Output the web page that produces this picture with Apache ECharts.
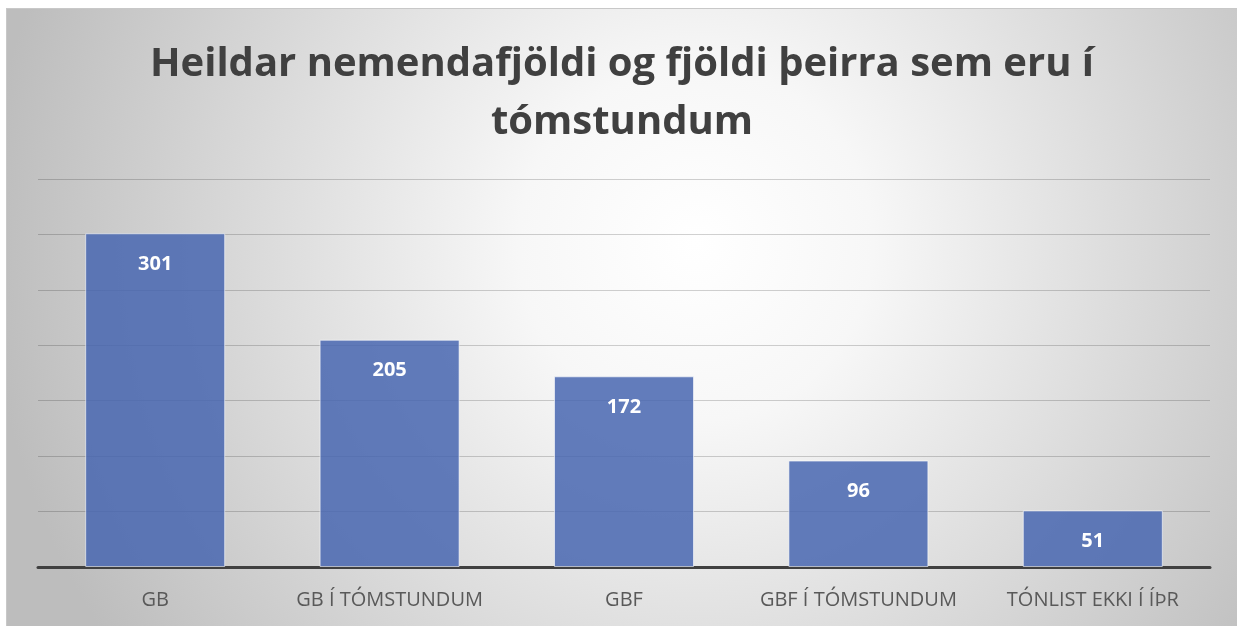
<!DOCTYPE html>
<html>
<head>
<meta charset="utf-8">
<script src="https://cdn.jsdelivr.net/npm/echarts@6/dist/echarts.min.js"></script>
<style>
  html, body { margin: 0; padding: 0; background: #fff; }
  #chart {
    position: absolute;
    left: 6px;
    top: 8px;
    width: 1231px;
    height: 618px;
    border-top: 1px solid #c8c8c8;
    border-left: 1px solid #c8c8c8;
    box-sizing: border-box;
  }
</style>
</head>
<body>
<div id="chart"></div>
<script>
// data
const categories = ['GB', 'GB Í TÓMSTUNDUM', 'GBF', 'GBF Í TÓMSTUNDUM', 'TÓNLIST EKKI Í ÍÞR']
const values = [301, 205, 172, 96, 51]
const titleText = 'Heildar nemendafjöldi og fjöldi þeirra sem eru í\ntómstundum'

const chart = echarts.init(document.getElementById('chart'))

const option = {
  backgroundColor: {
    type: 'radial',
    x: 0.56,
    y: 0.38,
    r: 1.15,
    colorStops: [
      { offset: 0, color: '#ffffff' },
      { offset: 0.25, color: '#f7f7f7' },
      { offset: 1, color: '#bdbdbd' }
    ]
  },
  title: {
    text: titleText,
    left: 'center',
    top: 22,
    textStyle: {
      fontFamily: 'Open Sans',
      fontWeight: 'bold',
      fontSize: 40,
      lineHeight: 58,
      color: '#404040'
    }
  },
  grid: {
    left: 31,
    right: 27,
    top: 170,
    bottom: 59
  },
  xAxis: {
    type: 'category',
    data: categories,
    axisTick: { show: false },
    axisLine: { lineStyle: { color: '#404040', width: 3 } },
    axisLabel: {
      interval: 0,
      hideOverlap: false,
      margin: 23,
      fontFamily: 'Open Sans',
      fontSize: 20,
      color: '#595959'
    }
  },
  yAxis: {
    type: 'value',
    min: 0,
    max: 350,
    interval: 50,
    axisLabel: { show: false },
    axisLine: { show: false },
    axisTick: { show: false },
    splitLine: { lineStyle: { color: 'rgba(0,0,0,0.18)', width: 1 } }
  },
  series: [
    {
      type: 'bar',
      data: values,
      barWidth: 140,
      itemStyle: {
        color: 'rgba(72,102,176,0.85)',
        borderColor: 'rgba(255,255,255,0.6)',
        borderWidth: 1
      },
      label: {
        show: true,
        position: 'insideTop',
        distance: 21,
        fontFamily: 'Open Sans',
        fontWeight: 'bold',
        fontSize: 20,
        color: '#ffffff'
      }
    }
  ]
}

chart.setOption(option)
</script>
</body>
</html>
